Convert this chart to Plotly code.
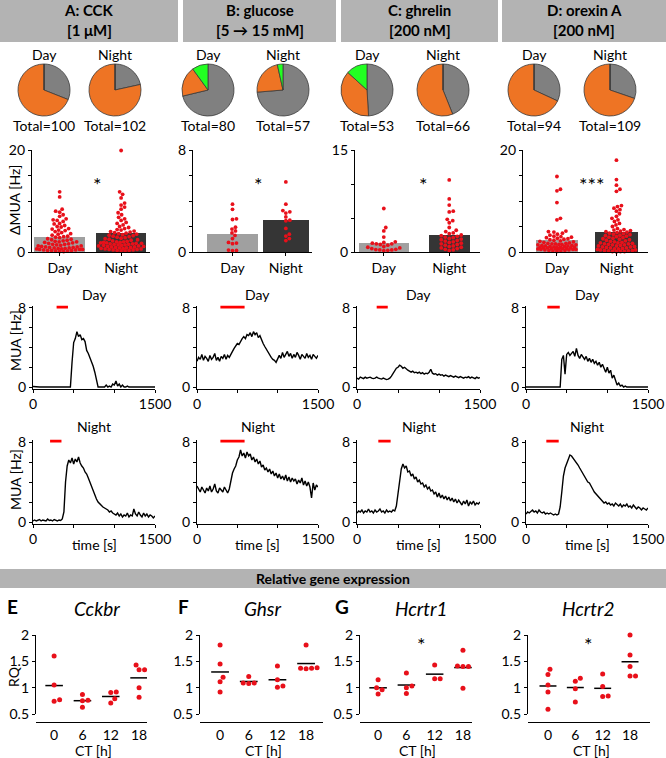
import numpy as np
import plotly.graph_objects as go

W, H = 666, 758
FONT = "Lato"


def fx(px):
    return px / W


def fy(py):
    return 1 - py / H


# ---------------- DATA ----------------
header_line1 = ["A: CCK", "B: glucose", "C: ghrelin", "D: orexin A"]
header_line2 = ["[1 μM]", "[5 → 15 mM]", "[200 nM]", "[200 nM]"]

pie_labels = ["no response", "excited", "inhibited"]
pie_day = [[31, 69, 0], [57, 15, 8], [26, 20, 7], [30, 64, 0]]
pie_night = [[22, 80, 0], [42, 13, 2], [29, 37, 0], [33, 76, 0]]
phase_labels = ["Day", "Night"]

bar_day_means = [2.9, 1.45, 1.3, 2.35]
bar_night_means = [3.7, 2.5, 2.5, 3.9]
bar_ymax = [20, 8, 15, 20]
bar_ticks = [[0, 5, 10, 15, 20], [0, 2, 4, 6, 8], [0, 5, 10, 15], [0, 5, 10, 15, 20]]
bar_sig = ["*", "*", "*", "***"]

dots_A_day = [11.8, 10.8, 8.4, 8.0, 7.8, 7.3, 7.0, 6.5, 6.3, 6.2, 6.0, 5.6, 5.5, 5.2, 5.0, 4.9, 4.6, 4.5,
              4.3, 4.2, 4.0, 3.8, 3.6, 3.5, 3.3, 3.1, 3.0, 2.9, 2.8, 2.6, 2.5, 2.4, 2.3, 2.2, 2.1, 2.0, 2.0,
              1.9, 1.8, 1.7, 1.6, 1.5, 1.5, 1.4, 1.3, 1.2, 1.2, 1.1, 1.0, 1.0, 0.9, 0.9, 0.8, 0.8, 0.7, 0.7,
              0.6, 0.6, 0.5, 0.5, 0.5, 0.4, 0.4, 0.3, 0.3, 0.3, 0.2, 0.2, 0.1, 0.1]
dots_A_night = [19.9, 11.8, 11.3, 10.6, 9.6, 9.2, 8.8, 8.4, 7.7, 7.3, 6.8, 6.5, 6.2, 5.8, 5.6, 5.3, 5.0, 4.8,
                4.6, 4.4, 4.3, 4.1, 4.0, 3.9, 3.8, 3.7, 3.6, 3.5, 3.4, 3.3, 3.2, 3.1, 3.0, 2.9, 2.8, 2.7, 2.6,
                2.5, 2.4, 2.3, 2.2, 2.1, 2.0, 2.0, 1.9, 1.9, 1.8, 1.8, 1.7, 1.7, 1.6, 1.6, 1.5, 1.5, 1.4, 1.4,
                1.3, 1.3, 1.2, 1.2, 1.1, 1.1, 1.0, 1.0, 0.9, 0.9, 0.8, 0.8, 0.7, 0.7, 0.6, 0.6, 0.5, 0.5, 0.4,
                0.4, 0.3, 0.3, 0.2, 0.2]
dots_B_day = [3.75, 3.35, 2.6, 2.55, 1.95, 1.8, 1.65, 1.5, 1.3, 1.05, 0.75, 0.7, 0.65, 0.15, 0.12, 0.1]
dots_B_night = [5.5, 3.75, 3.25, 3.15, 3.05, 2.75, 2.5, 2.45, 1.85, 1.4, 1.25, 1.05, 0.9]
dots_C_day = [6.4, 3.6, 3.1, 2.2, 1.5, 1.4, 1.3, 1.2, 1.2, 1.1, 1.0, 0.8, 0.7, 0.6, 0.5, 0.4, 0.35, 0.3, 0.3,
              0.25, 0.2]
dots_C_night = [10.6, 7.8, 6.9, 6.0, 5.9, 4.8, 4.6, 4.3, 3.6, 3.2, 3.0, 2.8, 2.7, 2.5, 2.4, 2.3, 2.2, 2.1, 2.0,
                1.9, 1.8, 1.7, 1.6, 1.5, 1.4, 1.3, 1.2, 1.1, 1.0, 0.9, 0.8, 0.7, 0.6, 0.5, 0.4, 0.3, 0.2]
dots_D_day = [14.8, 12.3, 12.0, 9.7, 6.6, 6.3, 4.1, 4.0, 3.9, 3.7, 3.5, 3.3, 3.1, 3.0, 2.9, 2.8, 2.7, 2.6,
              2.5, 2.4, 2.3, 2.2, 2.1, 2.0, 1.9, 1.8, 1.7, 1.7, 1.6, 1.6, 1.5, 1.5, 1.4, 1.4, 1.3, 1.3, 1.2,
              1.2, 1.1, 1.1, 1.0, 1.0, 0.9, 0.9, 0.9, 0.8, 0.8, 0.8, 0.7, 0.7, 0.7, 0.6, 0.6, 0.6, 0.5, 0.5,
              0.5, 0.4, 0.4, 0.3, 0.3, 0.2, 0.2, 0.1]
dots_D_night = [18.0, 14.2, 13.1, 12.3, 11.9, 9.1, 8.9, 8.6, 8.3, 8.0, 7.5, 7.0, 6.6, 6.3, 6.0, 5.6, 5.3, 5.0,
                4.6, 4.4, 4.3, 4.2, 4.1, 4.0, 3.9, 3.8, 3.7, 3.6, 3.5, 3.4, 3.3, 3.2, 3.1, 3.0, 2.9, 2.8, 2.7,
                2.6, 2.5, 2.4, 2.3, 2.2, 2.1, 2.0, 1.9, 1.8, 1.8, 1.7, 1.6, 1.6, 1.5, 1.4, 1.4, 1.3, 1.2, 1.2,
                1.1, 1.0, 1.0, 0.9, 0.8, 0.8, 0.7, 0.6, 0.6, 0.5, 0.4, 0.4, 0.3, 0.3, 0.2, 0.2, 0.1, 0.1, 0.1,
                0.05]
bar_dots_day = [dots_A_day, dots_B_day, dots_C_day, dots_D_day]
bar_dots_night = [dots_A_night, dots_B_night, dots_C_night, dots_D_night]

# time courses, sampled every 20 s from 0 to 1500 s
time_s = list(range(0, 1501, 20))
mua_A_day = ([0.05, 0.02, 0, 0, 0, 0, 0, 0, 0, 0, 0, 0, 0, 0, 0, 0, 0, 0, 0, 0, 0, 0, 0, 0]
             + [2.5, 4.5, 4.9, 5.6, 5.1, 5.3, 4.8, 4.9, 4.6, 3.7, 3.4, 3.0, 2.6, 2.1, 1.5, 0.6]
             + [0, 0, 0, 0, 0, 0.2, 0, 0.1, 0, 0.3, 0.2, 0.6, 0.1, 0.3, 0, 0.2, 0, 0, 0.1, 0, 0, 0, 0.05,
                0, 0, 0, 0, 0, 0, 0, 0, 0, 0, 0, 0, 0])
mua_A_night = ([0.1, 0.2, 0.1, 0.15, 0.25, 0.1, 0.2, 0.15, 0.1, 0.3, 0.15, 0.2, 0.1, 0.25, 0.15, 0.1, 0.2,
                0.15, 0.3]
               + [1.0, 4.0, 5.6, 6.2]
               + [5.9, 6.4, 5.8, 6.3, 6.0, 6.5, 5.9]
               + [5.6, 5.4, 5.0, 4.8, 4.4, 4.0, 3.6, 3.1, 2.6, 2.3, 2.0, 1.8, 1.7]
               + [1.5, 1.4, 1.3, 1.2, 1.0, 1.1, 0.9, 0.8, 0.7, 0.9, 0.6, 0.8, 0.5, 0.7, 0.6, 0.9, 0.5, 0.7,
                  0.6, 1.3, 0.8, 0.6, 1.0, 0.7, 0.5, 0.9, 0.6, 0.8, 0.5, 0.7, 0.6, 0.4, 0.6])
mua_B_day = ([2.6, 3.0, 2.8, 3.3, 2.7, 3.1, 2.9, 2.6, 3.2, 2.8, 3.0, 3.4, 2.7, 3.0, 2.6, 3.1, 2.9, 3.3, 2.8,
              3.2, 3.0]
             + [3.4, 3.6, 3.9, 4.1, 4.4, 4.3, 4.7, 4.9, 5.1, 4.9, 5.3, 5.2, 5.5, 5.1, 5.6]
             + [5.3, 5.5, 5.0, 5.2, 4.7, 4.4, 4.1, 3.8, 3.6, 3.3, 3.0, 2.8, 2.7, 2.5, 2.9]
             + [3.2, 2.9, 3.5, 3.0, 3.3, 3.6, 3.1, 3.4, 2.9, 3.3, 3.0, 3.5, 3.2, 2.8, 3.3, 3.1, 2.9, 3.4, 3.0,
                3.2, 2.8, 3.3, 3.1, 2.9, 3.2])
mua_B_night = ([3.6, 3.3, 3.0, 3.5, 3.2, 2.9, 3.4, 3.1, 3.6, 3.0, 3.3, 3.8, 3.1, 2.9, 3.4, 3.2, 3.0, 3.5, 3.1,
                2.9, 3.3]
               + [4.2, 4.9, 5.3, 5.6, 6.2, 6.5, 7.2, 6.6, 6.9, 6.4]
               + [7.0, 6.6, 6.8, 6.2, 6.5, 6.0, 6.3, 5.8, 6.1, 5.5, 5.7, 5.2, 5.4, 5.0, 5.3]
               + [4.8, 5.1, 4.6, 4.9, 4.4, 4.8, 4.3, 4.6, 4.2, 4.7, 4.1, 4.5, 4.0, 4.4, 4.1, 4.3, 3.8, 4.2,
                  3.9, 4.4, 3.7, 4.1, 3.6, 4.0, 3.5, 2.4, 3.9, 3.2, 3.7, 3.5])
mua_C_day = ([0.9, 0.8, 1.0, 0.9, 0.85, 1.0, 0.9, 0.95, 1.0, 0.9, 0.85, 0.9, 1.0, 0.9, 0.85, 0.8, 0.9, 0.8,
              0.75, 0.8]
             + [0.9, 1.1, 1.4, 1.7, 1.9, 2.0, 2.2, 2.1, 1.9, 2.0, 1.8]
             + [1.7, 1.6, 1.5, 1.6, 1.45, 1.5, 1.4, 1.5, 1.35, 1.45, 1.3, 1.4, 1.35, 1.5, 1.8, 1.4, 1.3, 1.35,
                1.2, 1.3]
             + [1.2, 1.25, 1.1, 1.2, 1.15, 1.05, 1.15, 1.1, 1.0, 1.1, 1.05, 0.95, 1.05, 1.0, 0.9, 1.0, 0.95,
                1.05, 0.9, 1.0, 0.95, 0.85, 1.0, 0.9, 0.95])
mua_C_night = ([0.9, 1.1, 1.0, 1.2, 0.9, 1.1, 1.0, 1.3, 1.0, 1.1, 0.9, 1.2, 1.0, 1.1, 1.3, 1.0, 1.1, 0.9, 1.2,
                1.0, 1.1, 1.0, 1.2, 1.1]
               + [1.6, 3.0, 4.5, 5.3, 5.8]
               + [5.4, 5.6, 5.0, 5.1, 4.6, 4.8, 4.3, 4.5, 4.0, 4.2, 3.8, 3.9, 3.5, 3.7, 3.3, 3.5, 3.1]
               + [3.2, 2.8, 3.0, 2.5, 2.9, 2.4, 2.7, 2.3, 2.6, 2.2, 2.5, 2.1, 2.4, 2.0, 2.3, 1.9, 2.2, 2.0,
                  1.7, 2.1, 1.8, 2.2, 1.6, 2.0, 1.8, 2.1, 1.7, 1.9, 1.8, 2.0])
mua_D_day = ([0] * 22
             + [2.8, 3.2, 1.3, 3.3, 3.5, 3.2, 3.4, 3.6, 3.1, 3.9, 3.2, 2.9, 3.3, 3.0]
             + [2.8, 3.1, 2.6, 2.9, 2.5, 2.8, 2.4, 2.6, 2.2, 2.5, 2.0, 2.3, 1.9, 1.5, 2.0]
             + [1.4, 1.7, 0.9, 1.2, 0.6, 0.2, 0.4, 0.1, 0.2, 0, 0.1, 0, 0, 0, 0, 0, 0, 0, 0, 0, 0, 0, 0, 0, 0])
mua_D_night = ([0.8, 1.0, 0.9, 1.1, 1.2, 1.0, 1.1, 0.9, 1.2, 1.0, 0.9, 1.0, 0.8, 0.9, 0.8, 0.9, 0.8, 0.7, 0.8,
                0.7, 0.8]
               + [1.5, 3.0, 4.6, 5.4, 5.9, 6.3, 6.7, 6.6]
               + [6.4, 6.1, 5.9, 5.7, 5.4, 5.1, 4.8, 4.6, 4.3, 4.0, 3.9, 3.5, 3.3, 3.0, 2.8, 2.6, 2.4]
               + [2.2, 2.1, 1.9, 2.0, 1.8, 1.9, 1.7, 1.8, 1.6, 1.9, 1.7, 1.6, 1.8, 1.5, 1.7, 1.6, 1.8, 1.5,
                  1.6, 1.4, 1.7, 1.5, 1.3, 1.5, 1.4, 1.2, 1.4, 1.3, 1.2, 1.4])
mua_day = [mua_A_day, mua_B_day, mua_C_day, mua_D_day]
mua_night = [mua_A_night, mua_B_night, mua_C_night, mua_D_night]
stim_day = [(290, 430), (290, 590), (240, 375), (262, 415)]
stim_night = [(210, 350), (290, 590), (260, 410), (250, 402)]

genes = ["Cckbr", "Ghsr", "Hcrtr1", "Hcrtr2"]
gene_letters = ["E", "F", "G", ""]
ct_labels = ["0", "6", "12", "18"]
rq_Cckbr = [[1.60, 1.05, 0.77, 0.74], [0.87, 0.76, 0.75, 0.63], [0.92, 0.91, 0.79, 0.71],
            [1.43, 1.34, 1.34, 1.00, 0.82]]
rq_Ghsr = [[1.81, 1.45, 1.20, 1.11, 0.92], [1.21, 1.09, 1.08, 1.09], [1.41, 1.15, 1.01, 1.03],
           [1.81, 1.38, 1.37, 1.37, 1.36]]
rq_Hcrtr1 = [[1.15, 1.00, 0.96, 0.88], [1.28, 1.03, 1.00, 0.89], [1.43, 1.17, 1.17],
             [1.71, 1.40, 1.40, 1.41, 0.99]]
rq_Hcrtr2 = [[1.35, 1.25, 1.05, 0.92, 0.59], [1.18, 1.12, 0.98, 0.73], [1.26, 1.02, 0.84, 0.83],
             [2.00, 1.62, 1.40, 1.22, 1.22]]
rq_data = [rq_Cckbr, rq_Ghsr, rq_Hcrtr1, rq_Hcrtr2]
gene_sig = ["", "", "*", "*"]

# ---------------- STYLE / LAYOUT ----------------
C_GRAY_PIE = "#808080"
C_ORANGE = "#EE7424"
C_GREEN = "#22FF22"
C_RED = "#E8101A"
C_BAR_DAY = "#A0A0A0"
C_BAR_NIGHT = "#353535"
C_HEADER = "#B3B3B3"

header_boxes = [(0, 178), (183, 336), (341, 498), (502, 666)]
pie_cx = [(44, 115), (208, 283), (367, 443), (534, 610)]
bar_geom = [  # x0, x1 (px), xrange, bar widths
    (32, 150, [-0.45, 1.47], [0.82, 0.81]),
    (193, 312, [-0.74, 1.49], [0.95, 0.86]),
    (355, 480, [-0.44, 1.47], [0.76, 0.63]),
    (523, 648, [-0.57, 1.53], [0.71, 0.72]),
]
bar_px_per_cat = [61.5, 53.5, 65.5, 59.5]
trace_x = [(33, 155), (197, 318), (357, 480), (526, 648)]
gene_geom = [(36, 147, [-0.64, 3.28]), (200, 323, [-0.70, 3.59]), (360, 472, [-0.64, 3.32]),
             (528, 650, [-0.73, 3.73])]

fig = go.Figure()
axes_layout = {}
counter = [0]


def base_axis():
    return dict(showline=True, linecolor="black", linewidth=1.3, ticks="outside", ticklen=3,
                tickwidth=1.2, tickcolor="black", showgrid=False, zeroline=False, automargin=False,
                tickfont=dict(family=FONT, size=14, color="black"), fixedrange=True)


def new_axes(x0, x1, ytop, ybot, xprops, yprops):
    counter[0] += 1
    n = counter[0]
    s = "" if n == 1 else str(n)
    xa = base_axis()
    xa.update(domain=[fx(x0), fx(x1)], anchor="y" + s)
    xa.update(xprops)
    ya = base_axis()
    ya.update(domain=[fy(ybot), fy(ytop)], anchor="x" + s)
    ya.update(yprops)
    axes_layout["xaxis" + s] = xa
    axes_layout["yaxis" + s] = ya
    return "x" + s, "y" + s


def swarm(vals, px_per_x, px_per_y, diam, maxhalf):
    """Deterministic beeswarm layout: horizontal offsets (in x units) for each value."""
    order = sorted(range(len(vals)), key=lambda i: vals[i])
    placed = []
    offs = [0.0] * len(vals)
    cands = [0.0]
    k = 1
    while k * 0.5 <= maxhalf:
        cands += [k * 0.5, -k * 0.5]
        k += 1
    for i in order:
        y = vals[i] * px_per_y
        near = [(px, py) for px, py in placed if abs(py - y) < diam]
        chosen, best_d = 0.0, -1.0
        for c in cands:
            dmin = min([((c - px) ** 2 + (y - py) ** 2) ** 0.5 for px, py in near] or [1e9])
            if dmin >= diam:
                chosen = c
                break
            if dmin > best_d:
                best_d, chosen = dmin, c
        placed.append((chosen, y))
        offs[i] = chosen / px_per_x
    return offs


shapes = []
annotations = []


def ann(text, x, y, size=14, bold=False, italic=False, angle=0, xanchor="center", color="black"):
    t = text
    if bold:
        t = "<b>" + t + "</b>"
    if italic:
        t = "<i>" + t + "</i>"
    annotations.append(dict(text=t, x=fx(x), y=fy(y), xref="paper", yref="paper", showarrow=False,
                            xanchor=xanchor, yanchor="middle", textangle=angle,
                            font=dict(family=FONT, size=size, color=color)))


# Header boxes
for i, (x0, x1) in enumerate(header_boxes):
    shapes.append(dict(type="rect", xref="paper", yref="paper", x0=fx(x0), x1=fx(x1), y0=fy(42), y1=fy(0),
                       fillcolor=C_HEADER, line=dict(width=0), layer="below"))
    ann(header_line1[i], (x0 + x1) / 2, 10, size=15, bold=True)
    ann(header_line2[i], (x0 + x1) / 2, 30, size=15, bold=True)

# Pies
pie_colors = [C_GRAY_PIE, C_ORANGE, C_GREEN]
for i in range(4):
    for j, vals in enumerate([pie_day[i], pie_night[i]]):
        cx = pie_cx[i][j]
        fig.add_trace(go.Pie(values=vals, labels=pie_labels, sort=False, direction="clockwise", rotation=0,
                             textinfo="none", showlegend=False, hoverinfo="label+value",
                             marker=dict(colors=pie_colors, line=dict(color="#3a3a3a", width=0.8)),
                             domain=dict(x=[fx(cx - 26), fx(cx + 26)], y=[fy(116), fy(64)])))
        ann(phase_labels[j], cx, 54, size=14)
        ann("Total=" + str(sum(vals)), cx, 125, size=14)

# Bar charts with dots
for i in range(4):
    x0, x1, xr, widths = bar_geom[i]
    ymax = bar_ymax[i]
    tt = [str(v) if v in (0, ymax) else "" for v in bar_ticks[i]]
    xa, ya = new_axes(x0, x1, 150, 252,
                      dict(range=xr, tickvals=[0, 1], ticktext=phase_labels),
                      dict(range=[0, ymax], tickvals=bar_ticks[i], ticktext=tt))
    fig.add_trace(go.Bar(x=[0, 1], y=[bar_day_means[i], bar_night_means[i]], width=widths,
                         marker=dict(color=[C_BAR_DAY, C_BAR_NIGHT], line=dict(width=0)),
                         xaxis=xa, yaxis=ya, showlegend=False))
    pxy = 102.0 / ymax
    for k, d in enumerate([bar_dots_day[i], bar_dots_night[i]]):
        half = widths[k] * bar_px_per_cat[i] / 2 - 2
        offs = swarm(d, bar_px_per_cat[i], pxy, 3.8, half)
        fig.add_trace(go.Scatter(x=[k + o for o in offs], y=d, mode="markers",
                                 marker=dict(color=C_RED, size=3.8, line=dict(width=0)),
                                 cliponaxis=False, xaxis=xa, yaxis=ya, showlegend=False))
    ann(bar_sig[i], (x0 + x1) / 2 + 6, 184, size=20)
ann("ΔMUA [Hz]", 15, 200, size=14, angle=-90)

# Time-course traces
TRACE_TOP = 8
for row, (mua, stim, ytop, ybot, label) in enumerate([
        (mua_day, stim_day, 305.5, 388.5, "Day"),
        (mua_night, stim_night, 439.5, 523.5, "Night")]):
    for i in range(4):
        x0, x1 = trace_x[i]
        xa, ya = new_axes(x0, x1, ytop, ybot,
                          dict(range=[0, 1500], tickvals=[0, 500, 1000, 1500], ticktext=["0", "", "", "1500"]),
                          dict(range=[-0.15, 8.25], tickvals=[0, 2, 4, 6, 8], ticktext=["0", "", "", "", "8"]))
        fig.add_trace(go.Scatter(x=time_s, y=mua[i], mode="lines", line=dict(color="black", width=1.4),
                                 xaxis=xa, yaxis=ya, showlegend=False))
        fig.add_trace(go.Scatter(x=list(stim[i]), y=[TRACE_TOP + 0.1] * 2, mode="lines",
                                 line=dict(color="#FF0000", width=3.2), xaxis=xa, yaxis=ya, showlegend=False))
        ann(label, (x0 + x1) / 2, 294 if row == 0 else 426, size=14)
        if row == 1:
            ann("time [s]", (x0 + x1) / 2, 544, size=14)
ann("MUA [Hz]", 15, 341, size=14, angle=-90)
ann("MUA [Hz]", 15, 480, size=14, angle=-90)

# Gene expression section
shapes.append(dict(type="rect", xref="paper", yref="paper", x0=0, x1=1, y0=fy(588), y1=fy(569),
                   fillcolor=C_HEADER, line=dict(width=0), layer="below"))
ann("Relative gene expression", 333, 578.5, size=14, bold=True)
gene_title_x = [97, 262, 421, 588]
letter_x = [5, 176, 333, None]
for i in range(4):
    x0, x1, xr = gene_geom[i]
    xa, ya = new_axes(x0, x1, 635, 714,
                      dict(range=xr, tickvals=[0, 1, 2, 3], ticktext=ct_labels, ticks="", ticklen=0,
                           anchor="free", position=fy(722), tickfont=dict(family=FONT, size=14, color="black")),
                      dict(range=[0.5, 2], tickvals=[0.5, 1, 1.5, 2], ticktext=["0.5", "1", "1.5", "2"]))
    pxcat = (x1 - x0) / (xr[1] - xr[0])
    xs, ys, mx, my = [], [], [], []
    for k, grp in enumerate(rq_data[i]):
        offs = swarm(grp, pxcat, 79 / 1.5, 5.5, 12)
        xs += [k + o for o in offs]
        ys += grp
        m = float(np.mean(grp))
        mx += [k - 0.31, k + 0.31, None]
        my += [m, m, None]
    fig.add_trace(go.Scatter(x=mx, y=my, mode="lines", line=dict(color="black", width=1.5),
                             xaxis=xa, yaxis=ya, showlegend=False))
    fig.add_trace(go.Scatter(x=xs, y=ys, mode="markers", marker=dict(color=C_RED, size=5),
                             cliponaxis=False, xaxis=xa, yaxis=ya, showlegend=False))
    ann(genes[i], gene_title_x[i], 608, size=19, italic=True)
    if gene_letters[i]:
        ann(gene_letters[i], letter_x[i], 606, size=19, bold=True, xanchor="left")
    if gene_sig[i]:
        ann(gene_sig[i], gene_title_x[i], 644, size=20)
    ann("CT [h]", (x0 + x1) / 2 + 2, 750, size=14)
ann("RQ", 13, 677, size=14, angle=-90)

fig.update_layout(width=W, height=H, autosize=False, margin=dict(l=0, r=0, t=0, b=0, pad=0),
                  paper_bgcolor="white", plot_bgcolor="white", showlegend=False,
                  shapes=shapes, annotations=annotations, bargap=0,
                  font=dict(family=FONT, color="black"), **axes_layout)

PAGE_JS = ("document.documentElement.style.margin='0';document.documentElement.style.padding='0';"
           "document.body.style.margin='0';document.body.style.padding='0';"
           "document.body.style.overflow='hidden';"
           "var gd=document.getElementById('{plot_id}');gd.style.position='fixed';"
           "gd.style.top='0px';gd.style.left='0px';")

fig.write_html("out.html", config={"displayModeBar": False}, post_script=PAGE_JS)
